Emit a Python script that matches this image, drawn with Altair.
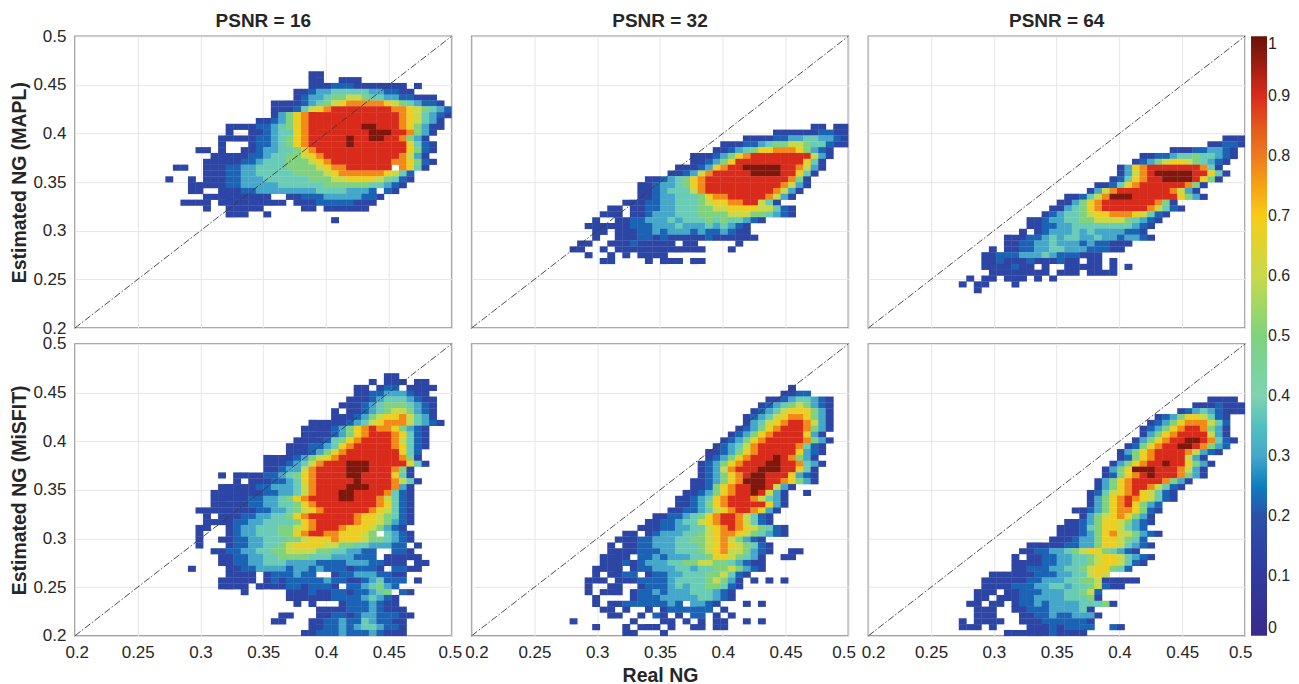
import altair as alt
import pandas as pd

# Each row: (row index from the top, first column index, density codes; a space is an empty cell)
CELL = 0.006
OVERLAP = 0.0003
LEVEL = {"1": 0.15, "2": 0.22, "3": 0.3, "4": 0.38, "5": 0.5, "6": 0.6, "7": 0.68, "8": 0.78, "9": 0.9, "a": 0.98}

MAPL_16 = [
(6,31,"11"),(7,31,"11  111"),(8,31,"1112221111111 1"),(9,29,"1123344444332211"),
(10,29,"1233455665443322111"),(11,26,"11112345678888876543221"),(12,26,"1112467899999999887654321"),
(13,26,"135789999999999998764321"),(14,24,"1123578999999999999876431"),
(15,20,"111122345789999999aa99987531"),(15,48,"1"),(16,20,"1  1123447899999999aaa998531"),
(17,19,"11111223457899999a99aa998531"),(18,19,"1   1223457899999a99999997421"),
(19,16,"11 1  11233445789999999999997521"),(20,18,"11111223445567899999999998631"),
(21,17,"1111122344455567899999999887521"),(22,13,"11  1112233444455556788999999 8741"),
(23,17,"1112233444445555678888887642"),(24,12,"1  1 1112233344444455566777765421"),
(25,15,"11111223333344444455555544321"),(26,15,"11  111223333333344443332 21"),
(27,17,"111111111  1122233333221"),(28,14,"1111 111111111 11122222111"),
(29,17,"1  11111     11 111111"),(30,20,"111  1"),(31,34,"1"),
]
MAPL_32 = [
(15,45,"11 1111"),(16,40,"1111112211"),(17,36,"11112233443321"),(18,33,"11122345566544211"),
(19,32,"1123457788875321"),(20,29,"1112357899999999631"),(21,29,"112357999999999741"),
(22,27,"111237899aaaaa998631"),(23,26,"11236899999aaaa99741"),(24,23,"1123457899999999999851"),
(25,22,"11233457899999999998631"),(26,22,"1123444689999999998631"),(27,22,"112334445788999998631"),
(28,20,"111223344456778899641"),(29,18,"11 1122334445566777766421"),(30,17,"111 1123334445555666554321"),
(31,16,"1  11223334344454544321"),(32,15,"1111112223334333434321"),(33,16,"11 111223233323223211"),
(34,16,"1  1112212111112111111"),(35,14,"11  111211111 11     1"),(36,13,"11  1 111111111111   1"),
(37,15,"1  1 1 1111"),(38,17,"11    1 111 11"),
]
MAPL_64 = [
(17,47,"1111"),(18,45,"11221"),(19,40,"111223321"),(20,36,"1122344544321"),(21,35,"1235677654321"),
(22,33,"13789999999841"),(23,33,"13689aaaaa99741"),(24,32,"1247899aaaa9751"),(25,30,"112478999999851"),
(26,29,"136899999998631"),(27,26,"112468aaa9999997531"),(28,25,"1135789999999851"),
(29,24,"113457899999986421"),(30,23,"12344567788876421"),(31,21,"112334455666654321"),
(32,21,"11223344444444321"),(33,20,"1 123334343333221"),(34,18,"11122343443343323321"),
(35,18,"11223343332322111"),(36,16,"1 1122334433322211"),(37,15,"1122233343222111"),
(38,15,"1121112111211 11 1"),(39,15,"1111211 1  11111 1 1"),(40,16,"11111111 111 1111"),
(41,13,"1 11 111 1 1"),(42,12,"1 11   1"),(43,14,"1"),
]
MISFIT_16 = [
(5,41,"11"),(6,39,"1 111 11"),(7,37,"11 122 1111"),(8,37,"1122333211"),(9,36,"111234443211"),
(10,35,"1112345554321"),(11,34,"1 112345665321"),(12,34,"11123567786431"),(13,31,"111112346788864321"),
(14,30,"11112357898875321"),(15,30,"11112357899987421"),(16,29,"111124578999986421"),
(17,28,"1112234789999987421"),(18,28,"111235789999999742"),(19,25,"111123567899999999851"),
(20,25,"11123468999aaa99999741"),(21,25,"11233689999aaa999851"),(22,19,"1 111122345789999aa9999741"),
(23,21,"1 11122347899999a99998641"),(24,19,"11111223334689999aaa999831"),
(25,18,"11111112233468999aa99998421"),(26,18,"11111223345789999aa99986421"),
(27,18,"111112233445789999999987421"),(28,16,"11111111223345678999999876421"),
(29,17,"1 11122334457899999987765421"),(30,17,"1111223344445789999987765321"),
(31,16,"11  123344455678999877765321"),(32,16,"1   12334445578998877765 4321"),
(33,16,"1  11223344455677787776554321"),(34,16,"1   122334456777766554433322 1"),
(35,18,"1122334455666655443322  221"),(36,19,"112233445555444333222 11111"),(37,19,"1122334443333222233322111 11"),
(38,15,"1    112233332332322212221 2211"),(39,20,"1111 1222322  1223332211"),
(40,19,"11111 1212222232211234222 1"),(41,19,"1111 11112212221 2234532"),
(42,22,"1     11121122122345 21"),(43,28,"111111222234321"),(44,29,"1 1"),(44,35,"12223211"),
(45,32,"111122232111"),(46,27,"11   1122123322211"),(47,26,"11   1122322432211"),
(48,31,"1122323443221"),(49,30,"11222322232111"),
]
MISFIT_32 = [
(7,42,"1"),(8,41,"1122"),(9,39,"112344321"),(10,38,"1234565321"),(11,37,"12346777531"),
(12,36,"123467887531"),(13,36,"134678998631"),(14,35,"1235789998531"),(15,34,"1235789999731"),
(16,33,"123578999998531"),(17,32,"123468999998421"),(18,31,"1123578999997321"),(19,31,"123578999a98531"),
(20,30,"123578999aa998431"),(21,30,"12368999aaa99741"),(22,30,"1235789aa9997321"),
(23,29,"1123578aaa9987531"),(24,29,"11257899aa9631"),(25,28,"112357899a9631"),(25,44,"1"),
(26,27,"112347899986431"),(27,27,"112357899999731"),(28,26,"112234678998731"),
(29,24,"1122345789986421"),(30,23,"11223446789986421"),(31,22,"11122334467898765421"),
(32,20,"11 1233344567887654321"),(33,19,"11122333445567865321"),(34,18,"1 11223334445678765421"),
(35,18,"1111222334445678665321"),(35,42,"11"),(36,17,"1111 22323334457765431"),(36,41,"11"),
(37,17,"1112123334455665543211"),(38,16,"1111 122333443445565321"),(39,16,"1 1122 12233444556421"),
(40,15,"111 11122223444456531"),(40,37,"1 1 1"),(41,15,"1  11  12223434455421"),(42,15,"1 111 12232333444321"),
(43,16,"1    12223333344321"),(44,16,"1 1122222232 3321"),(44,36,"1 1"),(45,17,"11 1  1 1222222 1"),
(46,18,"11  1 21 1 22 1 1"),(47,21,"1   11 1 1 11  1 1"),(47,13,"1"),(48,16,"1   1 111 1  11 11"),(49,20,"11   1"),
]
MISFIT_64 = [
(9,45,"1111"),(10,43,"11121"),(10,48,"11"),(11,41,"1234321"),(11,48,"11"),(12,38,"1235776421"),
(13,37,"12357888642"),(14,36,"123578998531"),(15,36,"135789999631"),(16,35,"1357899aa98421"),
(17,34,"1257899aa98532"),(18,33,"13578999986321"),(19,33,"125789999631"),(20,32,"1357899a997531"),
(21,31,"1357aaa9998631"),(22,31,"125789a9998531"),(23,30,"1357899998531"),(24,30,"135789986421"),
(25,29,"124678976421"),(26,29,"135789876421"),(27,29,"1357897532"),(28,27,"112357887521"),
(29,28,"1356787531"),(30,26,"112357765321"),(31,25,"111245776432"),(32,25,"11123578665321"),
(33,24,"1112335776542"),(34,21,"11111223357764321"),(35,20,"1122334567754321"),(36,19,"1 11223344567764321"),
(37,19,"111122334456776421"),(38,19,"1122233445677542"),(39,16,"1111112223344676"),
(40,15,"11111122333445561"),(40,32,"1111"),(41,15,"11112223344344562"),(41,32,"11"),(42,14,"111 1122233344562"),
(43,14,"11 11122333344451"),(44,13,"11 11 12232333344451"),(45,14,"111  11222333341"),(46,14,"111   11223223331"),
(47,12,"1 1111  1112222221"),(48,12,"111 1    111212222  21"),(49,18,"11111121111"),
]

PANELS = [[MAPL_16, MAPL_32, MAPL_64], [MISFIT_16, MISFIT_32, MISFIT_64]]
PSNR_TITLES = ["PSNR = 16", "PSNR = 32", "PSNR = 64"]
ROW_TITLES = ["Estimated NG (MAPL)", "Estimated NG (MiSFIT)"]
TICKS = [0.2, 0.25, 0.3, 0.35, 0.4, 0.45, 0.5]
DIAGONAL = [0.2, 0.5]
COLORBAR_TICKS = [0, 0.1, 0.2, 0.3, 0.4, 0.5, 0.6, 0.7, 0.8, 0.9, 1]
COLORBAR_COLORS = ["#3a2a8c", "#2f3a9e", "#2c50aa", "#45a8ca", "#7fd3b0", "#80d27e",
                   "#c8d94a", "#f7cc18", "#ee7a20", "#d92b1c", "#6a1208"]
FONT = "Liberation Sans"
INK = "#262626"


def cells(rows):
    out = []
    for j, i0, text in rows:
        for k, code in enumerate(text):
            i = i0 + k
            if code != " " and i < 50:
                out.append({"x0": 0.2 + CELL * i, "x1": min(0.5, 0.2 + CELL * (i + 1) + OVERLAP),
                            "y1": 0.5 - CELL * j, "y0": 0.5 - CELL * (j + 1) - OVERLAP,
                            "v": LEVEL[code]})
    return pd.DataFrame(out)


color_scale = alt.Scale(domain=COLORBAR_TICKS, range=COLORBAR_COLORS)
diag = pd.DataFrame({"x": DIAGONAL, "y": DIAGONAL})


def panel(r, c):
    xa = alt.Axis(values=TICKS, format=".2~f", grid=True, gridColor="#e6e6e6", ticks=False, domain=False,
                  labels=r == 1, labelFontSize=17, labelFont=FONT, labelColor=INK, labelPadding=9,
                  labelOverlap=False, labelFlush=0.01 if r == 1 else False, labelFlushOffset=10 if c == 0 else 7,
                  title="Real NG" if (r == 1 and c == 1) else None,
                  titleFont=FONT, titleFontSize=19.5, titleFontWeight="bold", titleColor=INK, titlePadding=6)
    ya = alt.Axis(values=TICKS, format=".2~f", grid=True, gridColor="#e6e6e6", ticks=False, domain=False,
                  labels=c == 0, labelFontSize=17, labelFont=FONT, labelColor=INK, labelPadding=9,
                  labelOverlap=False, title=ROW_TITLES[r] if c == 0 else None,
                  titleFont=FONT, titleFontSize=19.5, titleFontWeight="bold", titleColor=INK, titlePadding=3)
    xs = alt.Scale(domain=[0.2, 0.5], nice=False)
    ys = alt.Scale(domain=[0.2, 0.5], nice=False)
    heat = alt.Chart(cells(PANELS[r][c])).mark_rect().encode(
        x=alt.X("x0:Q", scale=xs, axis=xa),
        x2="x1:Q",
        y=alt.Y("y0:Q", scale=ys, axis=ya),
        y2="y1:Q",
        color=alt.Color("v:Q", scale=color_scale, legend=alt.Legend(
            orient="none", legendX=1177, legendY=0, direction="vertical", title=None,
            gradientLength=600, gradientThickness=16, gradientStrokeWidth=0,
            values=COLORBAR_TICKS, format=".1~f", labelFontSize=16, labelFont=FONT, labelColor=INK,
            labelOffset=1, labelBaseline="middle", labelOverlap=False)),
    )
    line = alt.Chart(diag).mark_line(color="#3a3a3a", strokeWidth=0.9, strokeDash=[7, 2, 1.5, 2]).encode(
        x=alt.X("x:Q", scale=xs, axis=xa), y=alt.Y("y:Q", scale=ys, axis=ya))
    layer = alt.layer(heat, line).properties(width=377, height=292)
    if r == 0:
        layer = layer.properties(title=alt.TitleParams(PSNR_TITLES[c], font=FONT, fontSize=19, fontWeight="bold",
                                                       color=INK, offset=-4 if c == 0 else 3))
    return layer


panels = [panel(r, c) for r in range(2) for c in range(3)]
chart = alt.concat(*panels, columns=3, spacing=alt.RowColnumber(row=16, column=20), bounds="flush").properties(
    padding={"left": 1, "top": 3, "right": 0, "bottom": 0}
).resolve_scale(color="shared").configure_view(stroke="#8c8c8c", strokeWidth=1.5)

chart.save("out.html", embed_options={"renderer": "svg", "actions": False})
